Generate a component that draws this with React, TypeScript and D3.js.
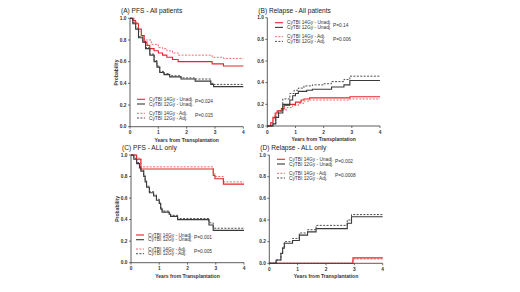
import React from "react";
import * as d3 from "d3";

type Pt = [number, number];

// ---- Data (years, probability) ----
const xTicks = [0, 1, 2, 3, 4];
const yTicks = [0, 0.2, 0.4, 0.6, 0.8, 1.0];

const pfsAll14Unadj: Pt[] = [[0,1],[0.1,0.98],[0.2,0.95],[0.3,0.9],[0.4,0.84],[0.5,0.78],[0.6,0.75],[0.7,0.72],[0.85,0.7],[1.0,0.68],[1.15,0.66],[1.3,0.64],[1.5,0.62],[1.7,0.6],[2.9,0.58],[3.3,0.56]];
const pfsAll12Unadj: Pt[] = [[0,1],[0.1,0.95],[0.2,0.9],[0.3,0.82],[0.45,0.78],[0.55,0.72],[0.7,0.66],[0.85,0.6],[0.95,0.55],[1.05,0.5],[1.2,0.48],[1.4,0.46],[1.8,0.44],[2.3,0.42],[2.85,0.39],[2.95,0.37]];
const pfsAll14Adj: Pt[] = [[0,1],[0.15,0.96],[0.3,0.88],[0.4,0.84],[0.5,0.8],[0.75,0.76],[1.0,0.73],[1.15,0.72],[1.3,0.7],[1.5,0.68],[1.7,0.66],[2.9,0.64],[3.3,0.63]];
const pfsAll12Adj: Pt[] = [[0,1],[0.1,0.96],[0.2,0.91],[0.3,0.83],[0.45,0.79],[0.55,0.73],[0.7,0.67],[0.85,0.61],[0.95,0.56],[1.05,0.51],[1.2,0.49],[1.4,0.47],[1.8,0.45],[2.3,0.44],[2.85,0.4],[2.95,0.39]];

const relAll14Unadj: Pt[] = [[0,0],[0.12,0.03],[0.2,0.08],[0.28,0.12],[0.35,0.14],[0.5,0.16],[0.6,0.19],[0.8,0.2],[1.0,0.22],[1.2,0.24],[1.3,0.25],[1.5,0.26],[2.93,0.27]];
const relAll12Unadj: Pt[] = [[0,0],[0.2,0.02],[0.3,0.08],[0.4,0.12],[0.55,0.2],[0.8,0.24],[0.9,0.28],[1.0,0.3],[1.1,0.32],[1.4,0.33],[1.6,0.34],[2.28,0.36],[2.72,0.38],[2.93,0.42]];
const relAll14Adj: Pt[] = [[0,0],[0.12,0.03],[0.2,0.07],[0.28,0.11],[0.35,0.13],[0.5,0.15],[0.7,0.17],[0.9,0.19],[1.1,0.21],[1.3,0.23],[1.5,0.24],[2.93,0.25]];
const relAll12Adj: Pt[] = [[0,0],[0.2,0.02],[0.3,0.09],[0.4,0.14],[0.55,0.25],[0.8,0.3],[0.95,0.33],[1.1,0.35],[1.3,0.37],[1.6,0.38],[2.0,0.39],[2.28,0.41],[2.72,0.43],[2.93,0.46]];

const pfsAllOnly14Unadj: Pt[] = [[0,1],[0.2,0.96],[0.35,0.87],[2.91,0.81],[2.97,0.78],[3.27,0.73]];
const pfsAllOnly12Unadj: Pt[] = [[0,1],[0.1,0.96],[0.2,0.92],[0.3,0.88],[0.35,0.85],[0.45,0.8],[0.5,0.75],[0.55,0.7],[0.65,0.65],[0.8,0.62],[0.9,0.58],[1.0,0.55],[1.05,0.5],[1.1,0.47],[1.35,0.45],[1.4,0.43],[1.65,0.4],[2.76,0.35],[2.91,0.3]];
const pfsAllOnly14Adj: Pt[] = [[0,1],[0.2,0.97],[0.35,0.89],[2.91,0.83],[2.97,0.8],[3.27,0.75]];
const pfsAllOnly12Adj: Pt[] = [[0,1],[0.1,0.97],[0.2,0.93],[0.3,0.89],[0.35,0.86],[0.45,0.81],[0.5,0.76],[0.55,0.71],[0.65,0.66],[0.8,0.63],[0.9,0.59],[1.0,0.56],[1.05,0.51],[1.1,0.48],[1.35,0.46],[1.4,0.44],[1.65,0.41],[2.76,0.37],[2.91,0.32]];

const relAllOnly14Unadj: Pt[] = [[0,0],[2.95,0.05]];
const relAllOnly12Unadj: Pt[] = [[0,0],[0.24,0.03],[0.41,0.09],[0.47,0.14],[0.53,0.185],[0.82,0.21],[1.06,0.26],[1.35,0.29],[1.65,0.32],[2.75,0.37],[2.9,0.43]];
const relAllOnly14Adj: Pt[] = [[0,0],[2.95,0.04]];
const relAllOnly12Adj: Pt[] = [[0,0],[0.24,0.03],[0.41,0.1],[0.47,0.15],[0.53,0.2],[0.82,0.23],[1.06,0.28],[1.35,0.31],[1.65,0.35],[2.75,0.4],[2.9,0.45]];

const legendLabels = ["CyTBI 14Gy - Unadj.", "CyTBI 12Gy - Unadj.", "CyTBI 14Gy - Adj.", "CyTBI 12Gy - Adj."];

const RED = "#e4262c";
const RED_D = "#ec5a5e";
const BLK = "#3a3a3a";
const FONT = "Liberation Sans, Arial, sans-serif";

interface PanelProps {
  title: string;
  x0: number; x1: number; yTop: number; yBot: number;
  series: Pt[][];
  yLabel: boolean;
  legX: number; legY: number; pUnadj: string; pAdj: string;
}

function Panel(p: PanelProps) {
  const x = d3.scaleLinear().domain([0, 4]).range([p.x0, p.x1]);
  const y = d3.scaleLinear().domain([0, 1]).range([p.yBot, p.yTop]);
  const line = d3.line<Pt>().x(d => x(d[0])).y(d => y(d[1])).curve(d3.curveStepAfter);
  const styles = [
    { c: RED, dash: undefined as string | undefined, w: 1.1 },
    { c: BLK, dash: undefined as string | undefined, w: 1.1 },
    { c: RED_D, dash: "2,1.4", w: 0.9 },
    { c: BLK, dash: "2,1.4", w: 0.9 },
  ];
  const order = [2, 3, 0, 1];
  const legRows = [p.legY, p.legY + 4.7, p.legY + 14, p.legY + 18.7];
  const pX = p.legX + 12 + 46;
  return (
    <g>
      <text x={p.x0 - 9} y={p.yTop - 5} fontSize={6.6} fontFamily={FONT} fill="#222">{p.title}</text>
      {order.map(i => {
        const s = p.series[i];
        const data: Pt[] = [...s, [4, s[s.length - 1][1]]];
        return <path key={i} d={line(data) || ""} fill="none" stroke={styles[i].c} strokeWidth={styles[i].w} strokeDasharray={styles[i].dash} />;
      })}
      <line x1={p.x0} x2={p.x0} y1={p.yTop} y2={p.yBot} stroke="#333" strokeWidth={0.8} />
      <line x1={p.x0} x2={p.x1} y1={p.yBot} y2={p.yBot} stroke="#333" strokeWidth={0.8} />
      {yTicks.map(t => (
        <g key={"y" + t}>
          <line x1={p.x0 - 2} x2={p.x0} y1={y(t)} y2={y(t)} stroke="#333" strokeWidth={0.7} />
          <text x={p.x0 - 3.5} y={y(t) + 1.7} fontSize={4.8} textAnchor="end" fontFamily={FONT} fontWeight="bold" fill="#333">{t.toFixed(1)}</text>
        </g>
      ))}
      {xTicks.map(t => (
        <g key={"x" + t}>
          <line x1={x(t)} x2={x(t)} y1={p.yBot} y2={p.yBot + 2} stroke="#333" strokeWidth={0.7} />
          <text x={x(t)} y={p.yBot + 7.5} fontSize={4.8} textAnchor="middle" fontFamily={FONT} fontWeight="bold" fill="#333">{t}</text>
        </g>
      ))}
      <text x={(p.x0 + p.x1) / 2} y={p.yBot + 15} fontSize={5} textAnchor="middle" fontFamily={FONT} fontWeight="bold" fill="#333">Years from Transplantation</text>
      {p.yLabel && (
        <text transform={`translate(${p.x0 - 12.5},${(p.yTop + p.yBot) / 2}) rotate(-90)`} fontSize={5} textAnchor="middle" fontFamily={FONT} fontWeight="bold" fill="#333">Probability</text>
      )}
      {legendLabels.map((lab, i) => (
        <g key={lab}>
          <line x1={p.legX} x2={p.legX + 8} y1={legRows[i]} y2={legRows[i]} stroke={styles[i].c} strokeWidth={styles[i].w} strokeDasharray={styles[i].dash} />
          <text x={p.legX + 12} y={legRows[i] + 1.7} fontSize={4.8} fontFamily={FONT} fill="#333">{lab}</text>
        </g>
      ))}
      <text x={pX} y={p.legY + 4} fontSize={4.8} fontFamily={FONT} fill="#333">{p.pUnadj}</text>
      <text x={pX} y={p.legY + 18} fontSize={4.8} fontFamily={FONT} fill="#333">{p.pAdj}</text>
    </g>
  );
}

export default function App() {
  return (
    <svg width={520} height={292} style={{ position: "absolute", left: 0, top: 0, background: "#fff" }}>
      <rect width={520} height={292} fill="#fff" />
      <Panel title="(A) PFS - All patients" x0={130} x1={243.3} yTop={18.3} yBot={126.7}
        series={[pfsAll14Unadj, pfsAll12Unadj, pfsAll14Adj, pfsAll12Adj]} yLabel={true}
        legX={137} legY={99.3} pUnadj="P=0.024" pAdj="P=0.015" />
      <Panel title="(B) Relapse - All patients" x0={267.3} x1={380} yTop={17.7} yBot={126}
        series={[relAll14Unadj, relAll12Unadj, relAll14Adj, relAll12Adj]} yLabel={false}
        legX={275} legY={22.7} pUnadj="P=0.14" pAdj="P=0.006" />
      <Panel title="(C) PFS - ALL only" x0={131} x1={244} yTop={155} yBot={262.7}
        series={[pfsAllOnly14Unadj, pfsAllOnly12Unadj, pfsAllOnly14Adj, pfsAllOnly12Adj]} yLabel={true}
        legX={136} legY={235} pUnadj="P=0.001" pAdj="P=0.005" />
      <Panel title="(D) Relapse - ALL only" x0={269.3} x1={382.7} yTop={155} yBot={263.3}
        series={[relAllOnly14Unadj, relAllOnly12Unadj, relAllOnly14Adj, relAllOnly12Adj]} yLabel={false}
        legX={277} legY={159.3} pUnadj="P=0.002" pAdj="P=0.0008" />
    </svg>
  );
}
